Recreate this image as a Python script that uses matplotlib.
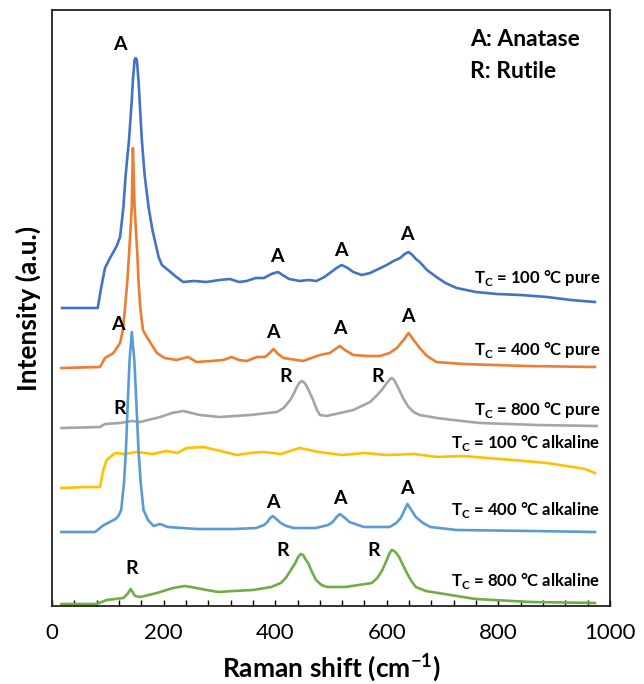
import matplotlib
matplotlib.use('Agg')
import matplotlib.pyplot as plt
from matplotlib.ticker import MultipleLocator

plt.rcParams['font.family'] = ['Lato', 'DejaVu Sans']
plt.rcParams['mathtext.fontset'] = 'custom'
plt.rcParams['mathtext.rm'] = 'Lato'
plt.rcParams['mathtext.bf'] = 'Lato:bold'

# stacked spectra, intensity already offset (a.u.)
x_100_pure = [18, 82, 88, 95, 104, 110, 116, 122, 128, 132, 138, 143, 145, 148, 150, 152, 155, 157, 161, 166,
              173, 180, 191, 197, 208, 223, 235, 255, 277, 300, 319, 335, 349, 365, 380, 393, 405, 416, 425,
              444, 460, 474, 488, 498, 510, 519, 530, 540, 555, 570, 585, 600, 612, 624, 632, 639, 646, 652,
              659, 672, 689, 705, 725, 760, 797, 840, 887, 930, 973]
y_100_pure = [298, 298, 318, 338, 348, 354, 360, 369, 399, 431, 466, 506, 526, 546, 548, 546, 526, 506, 466, 431,
              399, 376, 349, 341, 336, 329, 324, 325, 324, 326, 327, 324, 325, 328, 328, 332, 334, 330, 327,
              325, 326, 325, 329, 333, 338, 341, 338, 334, 331, 333, 337, 341, 345, 348, 352, 354, 351, 347,
              344, 336, 329, 323, 318, 314, 312, 311, 309, 306, 304]

x_400_pure = [17, 86, 95, 110, 122, 127, 131, 135, 138, 141, 143, 144, 145, 146.5, 148, 150, 153, 155, 158, 163,
              170, 188, 202, 223, 244, 259, 285, 307, 322, 335, 349, 367, 382, 390, 397, 405, 415, 450, 480,
              498, 508, 516, 525, 540, 565, 588, 605, 618, 630, 639, 648, 659, 672, 689, 737, 850, 973]
y_400_pure = [238, 239, 248, 253, 263, 276, 299, 325, 351, 380, 399, 430, 458, 430, 399, 380, 351, 325, 299, 276,
              269, 253, 248, 246, 249, 244, 245, 246, 249, 246, 245, 249, 249, 253, 257, 252, 248, 245, 251,
              253, 257, 260, 256, 251, 250, 250, 253, 258, 266, 273, 266, 258, 250, 244, 242, 240, 239]

x_800_pure = [17, 86, 95, 122, 143, 158, 194, 215, 235, 250, 265, 301, 355, 403, 415, 427, 433, 438, 443, 448,
              453, 458, 463, 468, 474, 480, 492, 540, 570, 581, 591, 600, 606, 609, 613, 617, 624, 631, 639,
              648, 659, 690, 719, 767, 870, 976]
y_800_pure = [178, 179, 182, 183, 185, 184, 189, 193, 195, 193, 191, 189, 191, 194, 198, 206, 212, 218, 223, 225,
              223, 218, 212, 206, 197, 191, 190, 196, 204, 210, 216, 223, 227, 228, 226, 222, 214, 206, 199,
              194, 191, 188, 186, 183, 181, 180]

x_100_alk = [17, 60, 86, 92, 98, 113, 130, 152, 180, 205, 225, 241, 271, 295, 331, 355, 379, 410, 444, 478,
             520, 560, 600, 650, 690, 737, 780, 827, 887, 934, 955, 973]
y_100_alk = [118, 119, 119, 136, 146, 153, 152, 154, 152, 155, 153, 158, 159, 156, 151, 153, 154, 152, 158, 154,
             151, 153, 151, 152, 149, 150, 148, 146, 143, 139, 137, 133]

x_400_alk = [17, 77, 93, 114, 119, 124, 129, 132.5, 136, 139, 143, 147.5, 151, 155, 159, 164, 172, 182, 194, 207,
             260, 327, 366, 380, 386, 391, 396, 402, 410, 420, 433, 473, 495, 503, 510, 516, 523, 533, 559,
             605, 617, 625, 631, 637, 644, 652, 665, 678, 725, 859, 973]
y_400_alk = [74, 74, 81, 87, 90, 96, 123, 156, 206, 246, 274, 246, 206, 156, 123, 96, 86, 80, 82, 79,
             77, 77, 78, 81, 84, 88, 90, 87, 83, 80, 78, 78, 81, 84, 89, 92, 89, 84, 79,
             79, 83, 88, 95, 102, 96, 89, 83, 79, 76, 75, 74]

x_800_alk = [17, 80, 98, 128, 135, 141, 149, 158, 188, 217, 238, 259, 277, 298, 325, 360, 393, 410, 419, 428,
             436, 441, 446, 450, 454, 459, 466, 473, 483, 493, 526, 573, 583, 592, 600, 605, 609, 613, 617,
             622, 629, 636, 644, 652, 670, 692, 759, 858, 973]
y_800_alk = [2, 2, 6, 8, 12, 17, 10, 9, 13, 18, 20, 18, 16, 14, 15, 16, 19, 23, 28, 36,
             43, 49, 52, 51, 47, 43, 34, 26, 21, 19, 19, 23, 28, 36, 46, 53, 56, 55, 53,
             49, 41, 33, 25, 19, 15, 13, 7, 4, 3]

series = [
    (x_100_pure, y_100_pure, '#4472C4', 'T$_\\mathbf{C}$ = 100 °C pure', 328),
    (x_400_pure, y_400_pure, '#ED7D31', 'T$_\\mathbf{C}$ = 400 °C pure', 256),
    (x_800_pure, y_800_pure, '#A5A5A5', 'T$_\\mathbf{C}$ = 800 °C pure', 196),
    (x_100_alk, y_100_alk, '#FFC000', 'T$_\\mathbf{C}$ = 100 °C alkaline', 163),
    (x_400_alk, y_400_alk, '#5B9BD5', 'T$_\\mathbf{C}$ = 400 °C alkaline', 96),
    (x_800_alk, y_800_alk, '#70AD47', 'T$_\\mathbf{C}$ = 800 °C alkaline', 25),
]

# phase marks: (x, y, letter)
peak_marks = [
    (122, 561, 'A'), (403, 350, 'A'), (518, 356, 'A'), (636, 371, 'A'),
    (118, 281, 'A'), (396, 274, 'A'), (516, 278, 'A'), (638, 289, 'A'),
    (122, 198, 'R'), (418, 230, 'R'), (584, 229, 'R'),
    (396, 103, 'A'), (516, 108, 'A'), (636, 118, 'A'),
    (142, 38, 'R'), (414, 55, 'R'), (577, 55, 'R'),
]

fig = plt.figure(figsize=(6.44, 6.84), dpi=100)
ax = fig.add_axes([52 / 644, 1 - 606 / 684, 558 / 644, 596 / 684])

for xs, ys, col, lab, ly in series:
    ax.plot(xs, ys, color=col, lw=1.9, solid_joinstyle='round')
    ax.text(982, ly, lab, ha='right', va='center', fontsize=12, fontweight='bold')

for px, py, s in peak_marks:
    ax.text(px, py, s, ha='center', va='center', fontsize=14, fontweight='bold')

ax.text(749, 566, 'A: Anatase', ha='left', va='center', fontsize=16.5, fontweight='bold')
ax.text(749, 535, 'R: Rutile', ha='left', va='center', fontsize=16.5, fontweight='bold')

ax.set_xlim(0, 1000)
ax.set_ylim(0, 596)
ax.xaxis.set_major_locator(MultipleLocator(200))
ax.xaxis.set_minor_locator(MultipleLocator(40))
ax.tick_params(axis='x', which='both', direction='in', length=4, width=1, labelsize=16, pad=12)
ax.set_yticks([])
for sp in ax.spines.values():
    sp.set_linewidth(1.3)
    sp.set_color('#222222')

ax.set_xlabel('Raman shift (cm$^{\\mathbf{-1}}$)', fontsize=19, fontweight='bold', labelpad=6)
ax.set_ylabel('Intensity (a.u.)', fontsize=19, fontweight='bold', labelpad=8)

fig.savefig('out.png', dpi=100)
